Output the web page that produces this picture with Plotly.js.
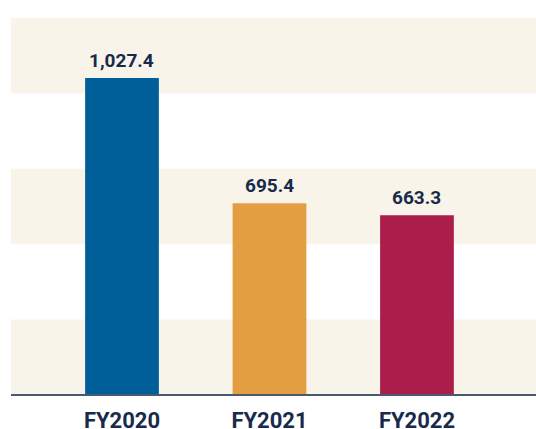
<!DOCTYPE html>
<html>
<head>
<meta charset="utf-8">
<script src="https://cdn.plot.ly/plotly-3.0.1.min.js"></script>
<style>html,body{margin:0;padding:0;background:#fff;}#chart{width:536px;height:429px;}</style>
</head>
<body>
<div id="chart"></div>
<script>
const categories = ["FY2020", "FY2021", "FY2022"];
const values = [1027.4, 695.4, 663.3];
const barColors = ["#005f99", "#e39e41", "#ab1e4b"];

const band = "#f8f4ea";
const shapes = [[0, 0.2], [0.4, 0.6], [0.8, 1.0]].map(([a, b]) => ({
  type: "rect", xref: "paper", yref: "paper", x0: 0, x1: 1, y0: a, y1: b,
  fillcolor: band, line: {width: 0}, layer: "below"
}));
shapes.push({type: "line", xref: "paper", yref: "paper", x0: 0, x1: 1, y0: 0, y1: 0,
  line: {color: "#4a5a6e", width: 2}, layer: "above"});

const annotations = categories.map((c, i) => ({
  x: c, y: values[i], xref: "x", yref: "y",
  text: values[i].toLocaleString("en-US", {minimumFractionDigits: 1, maximumFractionDigits: 1}),
  showarrow: false, yanchor: "bottom", yshift: 4,
  font: {family: "Roboto", size: 19, color: "#182b4b", weight: 700}
}));

Plotly.newPlot("chart", [{
  type: "bar",
  x: categories,
  y: values,
  width: 0.5,
  marker: {color: barColors},
  hoverinfo: "none"
}], {
  width: 536, height: 429,
  margin: {l: 11, r: 0, t: 18, b: 34},
  paper_bgcolor: "#ffffff",
  plot_bgcolor: "rgba(0,0,0,0)",
  showlegend: false,
  shapes: shapes,
  annotations: annotations,
  xaxis: {
    type: "category",
    range: [-0.7525, 2.807],
    showgrid: false, zeroline: false, showline: false,
    ticks: "",
    ticklabelstandoff: 10,
    tickfont: {family: "Roboto", size: 22, color: "#182b4b", weight: 700},
    fixedrange: true
  },
  yaxis: {
    range: [186.5, 1186.5],
    showgrid: false, zeroline: false, showline: false,
    showticklabels: false, ticks: "",
    fixedrange: true
  }
}, {displayModeBar: false, staticPlot: true});
</script>
</body>
</html>
